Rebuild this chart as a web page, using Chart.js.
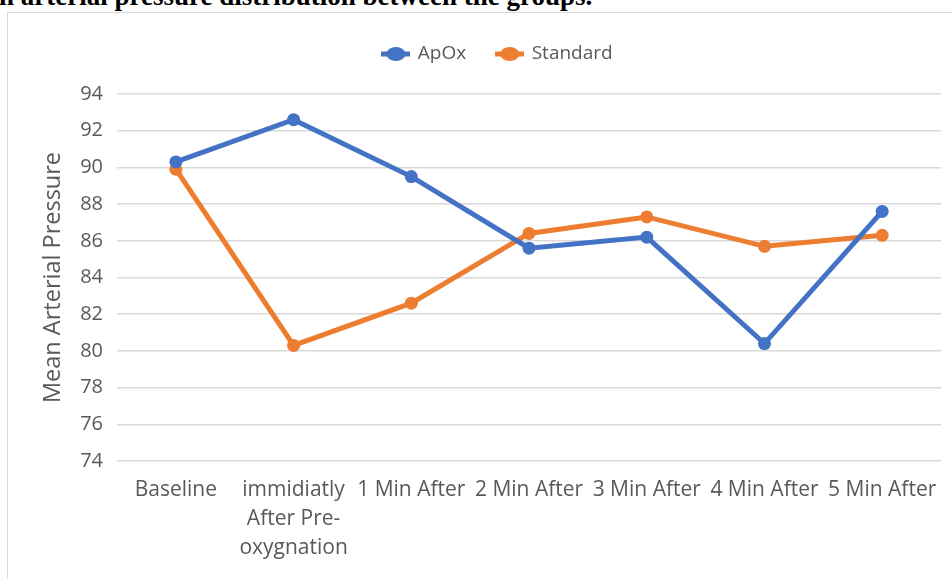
<!DOCTYPE html>
<html>
<head>
<meta charset="utf-8">
<script src="https://cdn.jsdelivr.net/npm/chart.js@4/dist/chart.umd.min.js"></script>
<style>
  html, body { margin: 0; padding: 0; background: #ffffff; overflow: hidden; }
  #wrap { position: relative; width: 952px; height: 579px; }
  #caption {
    position: absolute; left: -1px; top: -19px; white-space: nowrap;
    font-family: "Liberation Serif", "Times New Roman", serif;
    font-weight: bold; font-size: 27px; line-height: 31px; color: #000;
  }
  #frame {
    position: absolute; left: 7px; top: 12px; width: 980px; height: 600px;
    border: 1px solid #d9d9d9; box-sizing: border-box;
  }
  #box { position: absolute; left: 0; top: 0; width: 952px; height: 579px; }
</style>
</head>
<body>
<div id="wrap">
  <div id="caption">n arterial pressure distribution between the groups.</div>
  <div id="frame"></div>
  <div id="box"><canvas id="chart" width="952" height="579"></canvas></div>
</div>
<script>
// Time points of the measurement
const categories = [
  'Baseline',
  ['immidiatly', 'After Pre-', 'oxygnation'],
  '1 Min After',
  '2 Min After',
  '3 Min After',
  '4 Min After',
  '5 Min After'
];

// Mean arterial pressure per group
const apoxValues = [90.3, 92.6, 89.5, 85.6, 86.2, 80.4, 87.6];
const standardValues = [89.9, 80.3, 82.6, 86.4, 87.3, 85.7, 86.3];

// Y axis range and step
const yTicks = { min: 74, max: 94, step: 2 };

const BLUE = '#4472C4';
const ORANGE = '#ED7D31';
const TEXT = '#595959';
const GRID = '#d9d9d9';
const FONT = '"Open Sans", "Noto Sans", sans-serif';

// Legend marker: a short line with a dot in the middle
function legendMarker(color) {
  const c = document.createElement('canvas');
  c.width = 29; c.height = 16;
  const g = c.getContext('2d');
  g.strokeStyle = color;
  g.lineWidth = 5;
  g.beginPath();
  g.moveTo(0, 8); g.lineTo(29, 8);
  g.stroke();
  g.fillStyle = color;
  g.beginPath();
  g.ellipse(14.5, 8, 9.5, 7, 0, 0, Math.PI * 2);
  g.fill();
  return c;
}
const markers = [legendMarker(BLUE), legendMarker(ORANGE)];

// Legend box: fixed height so the plot starts at the same place,
// and nudged right of the canvas centre
const legendBox = {
  id: 'legendBox',
  beforeInit(chart) {
    const legend = chart.legend;
    if (!legend) return;
    const fit = legend.fit;
    legend.fit = function () {
      fit.call(this);
      this.height = 80.5;
    };
  },
  afterLayout(chart) {
    const legend = chart.legend;
    if (!legend) return;
    legend.left += 27;
    legend.right += 27;
  }
};

new Chart(document.getElementById('chart'), {
  type: 'line',
  data: {
    labels: categories,
    datasets: [
      {
        label: 'ApOx',
        data: apoxValues,
        borderColor: BLUE,
        backgroundColor: BLUE,
        borderWidth: 5,
        pointRadius: 6.5,
        pointHoverRadius: 6.5,
        pointBorderWidth: 0,
        tension: 0
      },
      {
        label: 'Standard',
        data: standardValues,
        borderColor: ORANGE,
        backgroundColor: ORANGE,
        borderWidth: 5,
        pointRadius: 6.5,
        pointHoverRadius: 6.5,
        pointBorderWidth: 0,
        tension: 0
      }
    ]
  },
  plugins: [legendBox],
  options: {
    responsive: false,
    animation: false,
    layout: { padding: { top: 13.5, right: 10, bottom: 0, left: 0 } },
    plugins: {
      tooltip: { enabled: false },
      legend: {
        position: 'top',
        align: 'center',
        labels: {
          usePointStyle: true,
          pointStyleWidth: 25,
          padding: 31,
          color: TEXT,
          font: { family: FONT, size: 19 },
          generateLabels(chart) {
            return chart.data.datasets.map((ds, i) => ({
              text: ds.label,
              fillStyle: ds.borderColor,
              strokeStyle: ds.borderColor,
              fontColor: TEXT,
              lineWidth: 0,
              pointStyle: markers[i],
              datasetIndex: i,
              hidden: false
            }));
          }
        }
      }
    },
    scales: {
      x: {
        offset: true,
        grid: { display: false, drawTicks: false },
        border: { display: false },
        ticks: {
          autoSkip: false,
          maxRotation: 0,
          minRotation: 0,
          padding: 15,
          color: TEXT,
          font: { family: FONT, size: 21, lineHeight: 1.38 }
        },
        afterFit(scale) { scale.height = 118; }
      },
      y: {
        min: yTicks.min,
        max: yTicks.max,
        grid: { color: GRID, lineWidth: 1.6, drawTicks: false },
        border: { display: false },
        ticks: {
          stepSize: yTicks.step,
          padding: 14,
          color: TEXT,
          font: { family: FONT, size: 20 }
        },
        title: {
          display: true,
          text: 'Mean Arterial Pressure',
          color: TEXT,
          font: { family: FONT, size: 23.5 },
          padding: { top: 39, bottom: 0 }
        },
        afterFit(scale) { scale.width = 117; }
      }
    }
  }
});
</script>
</body>
</html>
